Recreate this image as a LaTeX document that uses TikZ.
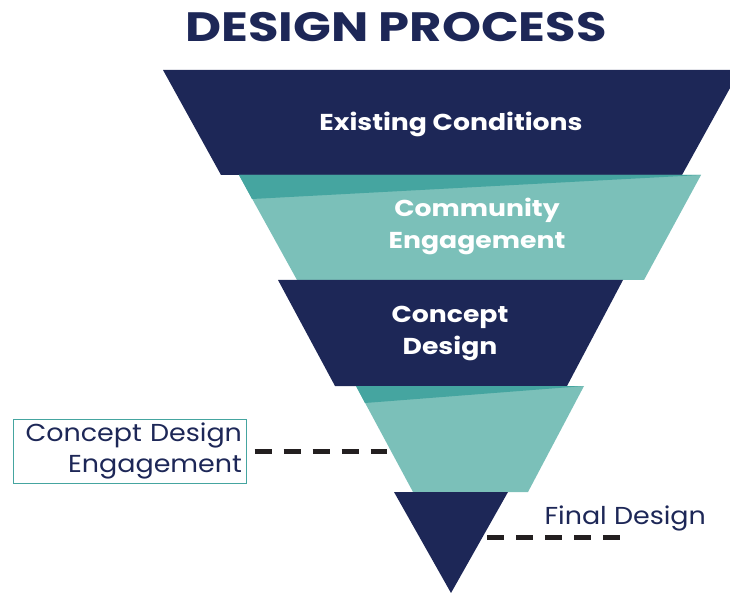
\documentclass[tikz,border=0pt]{standalone}
\usepackage{fontspec}
\setmainfont{Poppins}[FakeStretch=1.16]
\newfontfamily\headfont{Poppins}[FakeStretch=1.21]
\newfontfamily\labelfont{Poppins}[FakeStretch=1.1]
\usepackage{xcolor}
\usepackage{tikz}

\definecolor{navy}{HTML}{1D2757}
\definecolor{tealL}{HTML}{7BC0B9}
\definecolor{tealD}{HTML}{45A5A0}
\definecolor{leaderblk}{HTML}{231F20}

\begin{document}
\begin{tikzpicture}[x=1pt, y=-1pt,
    stage/.style={text=white, font=\bfseries\fontsize{23}{32}\selectfont, align=center},
    callout/.style={text=navy, font=\labelfont\fontsize{24.5}{31}\selectfont},
    leader/.style={draw=leaderblk, line width=5pt, dash pattern=on 17pt off 12pt}]
            \useasboundingbox (0,0) rectangle (730,593);
            \clip (0,0) rectangle (730,593);

            % funnel, top to bottom
            \fill[navy] (163,70) -- (740,70) -- (682,175) -- (221,175) -- cycle; % existing
            \fill[tealL] (239,175) -- (701,175) -- (644,280) -- (297,280) -- cycle; % community
            \fill[tealD] (239,175) -- (701,175) -- (252,199) -- cycle;
            \fill[navy] (278,280) -- (623,280) -- (567,386) -- (335,386) -- cycle; % concept
            \fill[tealL] (356,386) -- (584,386) -- (528,492) -- (413,492) -- cycle; % engagement
            \fill[tealD] (356,386) -- (584,386) -- (365,403) -- cycle;
            \fill[navy] (394,492) -- (508,492) -- (451,593) -- cycle; % final

            \node[text=navy, font=\headfont\bfseries\fontsize{41}{48}\selectfont, anchor=base] (title) at (396,42) {DESIGN PROCESS};

            \node[stage] (existing) at (451,124) {Existing Conditions};
            \node[stage] (community) at (477,226) {Community\\Engagement};
            \node[stage] (concept) at (450,333) {Concept\\Design};

            \node[callout, draw=tealD, line width=1pt, align=right, text width=225pt, inner xsep=4pt, minimum height=64pt] (cde) at (129.5,451) {Concept Design\\Engagement};
            \coordinate (cde-tip) at (387,451);
            \draw[leader] ([xshift=8pt]cde.east) -- (cde-tip); % box-funnel

            \coordinate (fd-tip) at (487,537);
            \coordinate (fd-end) at (620,537);
            \node[callout, anchor=base west] (final) at (541,524) {Final Design};
            \draw[leader] (fd-tip) -- (fd-end); % funnel-label
        \end{tikzpicture}
\end{document}
